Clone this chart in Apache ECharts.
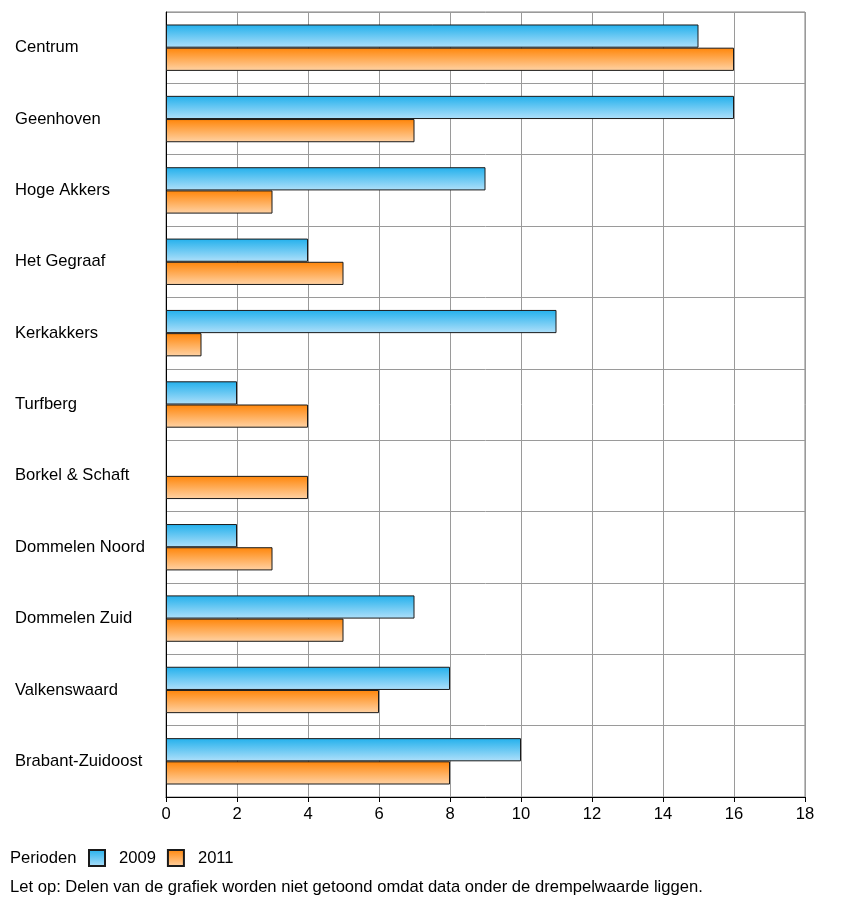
<!DOCTYPE html>
<html><head><meta charset="utf-8">
<script src="https://cdn.jsdelivr.net/npm/echarts@6/dist/echarts.min.js"></script>
<style>html,body{margin:0;padding:0;background:#fff}#c{width:850px;height:907px}</style>
</head><body><div id="c"></div>
<script>
const categories = ["Centrum","Geenhoven","Hoge Akkers","Het Gegraaf","Kerkakkers","Turfberg","Borkel & Schaft","Dommelen Noord","Dommelen Zuid","Valkenswaard","Brabant-Zuidoost"];
const values2009 = [15,16,9,4,11,2,null,2,7,8,10];
const values2011 = [16,7,3,5,1,4,4,3,5,6,8];
const xTicks = [0,2,4,6,8,10,12,14,16,18];
const seriesNames = ["2009","2011"];

const FONT = '"Liberation Sans", Arial, sans-serif';
const FS = 16.6;
const blueGrad = new echarts.graphic.LinearGradient(0,0,0,1,[{offset:0,color:'#22b0ec'},{offset:1,color:'#b0e0fa'}]);
const orangeGrad = new echarts.graphic.LinearGradient(0,0,0,1,[{offset:0,color:'#ff8508'},{offset:1,color:'#ffd3a6'}]);

const chart = echarts.init(document.getElementById('c'), null, {renderer:'canvas'});
chart.setOption({
  animation:false,
  backgroundColor:'#fff',
  grid:{left:166,right:45,top:12,bottom:110,show:true,borderColor:'#808080',borderWidth:1,containLabel:false},
  xAxis:{type:'value',min:0,max:18,interval:2,
    axisLine:{show:true,lineStyle:{color:'#000',width:1}},
    axisTick:{show:true,length:5,lineStyle:{color:'#000'}},
    axisLabel:{color:'#000',fontFamily:FONT,fontSize:FS,margin:9,formatter:v=>xTicks.includes(v)?String(v):''},
    splitLine:{show:true,lineStyle:{color:'#9a9a9a',width:1}}
  },
  yAxis:{type:'category',data:categories,inverse:true,
    axisLine:{show:true,lineStyle:{color:'#000',width:1}},
    axisTick:{show:false},
    axisLabel:{color:'#000',fontFamily:FONT,fontSize:FS,align:'left',margin:151},
    splitLine:{show:true,lineStyle:{color:'#9a9a9a',width:1}}
  },
  legend:{left:88,top:849,padding:0,itemWidth:16,itemHeight:16,itemGap:11,
    textStyle:{color:'#000',fontFamily:FONT,fontSize:FS,padding:[0,0,0,9]},
    data:seriesNames,icon:'rect'},
  graphic:[
    {type:'text',left:10,top:850,style:{text:'Perioden',fill:'#000',font:FS+'px '+FONT}},
    {type:'text',left:10,top:879,style:{text:'Let op: Delen van de grafiek worden niet getoond omdat data onder de drempelwaarde liggen.',fill:'#000',font:FS+'px '+FONT}}
  ],
  series:[
    {name:seriesNames[0],type:'bar',data:values2009,barGap:'0%',barCategoryGap:'35%',
     itemStyle:{color:blueGrad,borderColor:'#1a1a1a',borderWidth:1}},
    {name:seriesNames[1],type:'bar',data:values2011,barGap:'0%',barCategoryGap:'35%',
     itemStyle:{color:orangeGrad,borderColor:'#1a1a1a',borderWidth:1}}
  ]
});
</script></body></html>
